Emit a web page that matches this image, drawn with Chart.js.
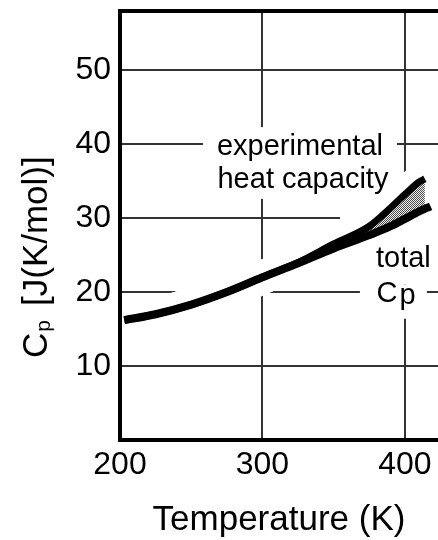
<!DOCTYPE html>
<html><head><meta charset="utf-8">
<script src="https://cdn.jsdelivr.net/npm/chart.js@4/dist/chart.umd.min.js"></script>
<style>html,body{margin:0;padding:0;background:#fff}#wrap{width:438px;height:540px}</style>
</head><body><div id="wrap"><canvas id="c" width="438" height="540"></canvas></div>
<script>
// ---- data ----
const temperatures = [203, 225, 250, 275, 300, 325, 350, 375, 390, 400, 410, 418];
const totalCp = [16.2, 17.0, 18.3, 20.0, 22.0, 23.9, 25.9, 27.7, 28.9, 29.9, 30.9, 31.6];
const expTemperatures = [203, 225, 250, 275, 300, 325, 350, 375, 390, 400, 410, 414];
const experimentalCp = [16.2, 17.0, 18.3, 20.0, 22.0, 24.0, 26.5, 28.9, 31.4, 33.2, 34.9, 35.3];
const xTicks = [200, 300, 400];
const yTicks = [10, 20, 30, 40, 50];
const xTitle = 'Temperature (K)';
const yTitleMain = 'C';
const yTitleSub = 'p';
const yTitleRest = '[J(K/mol)]';
const annotationLines = ['experimental', 'heat capacity', 'total'];
const annotationX = [326.3, 328.4, 398.9];
const annotationY = [38.5, 34.1, 23.4];
const cpLabelX = 380.1, cpLabelY = 18.7;
// white knock-out boxes behind labels (data units)
const maskX0 = [258.2, 354.4, 368.4];
const maskX1 = [394.4, 423.2, 415.4];
const maskY0 = [32.6, 21.0, 16.4];
const maskY1 = [42.3, 36.1, 21.0];

const FONT = '"Liberation Sans", Arial, Helvetica, sans-serif';
const pts = (xs, ys) => xs.map((x, i) => ({x, y: ys[i]}));

const canvas = document.getElementById('c');
const mainCtx = canvas.getContext('2d');
const pc = document.createElement('canvas'); pc.width = 2; pc.height = 2;
const pctx = pc.getContext('2d');
pctx.fillStyle = '#f2f2f2'; pctx.fillRect(0, 0, 2, 2);
pctx.fillStyle = '#4a4a4a'; pctx.fillRect(0, 0, 1, 1); pctx.fillRect(1, 1, 1, 1);
const hatch = mainCtx.createPattern(pc, 'repeat');

const deco = {
  id: 'deco',
  beforeDatasetsDraw(chart) {
    const {ctx, scales: {x, y}} = chart;
    ctx.save();
    ctx.fillStyle = '#fff';
    for (let i = 0; i < maskX0.length; i++) {
      const l = x.getPixelForValue(maskX0[i]), r = x.getPixelForValue(maskX1[i]);
      const t = y.getPixelForValue(maskY1[i]), b = y.getPixelForValue(maskY0[i]);
      ctx.fillRect(l, t, r - l, b - t);
    }
    ctx.restore();
  },
  afterDatasetsDraw(chart) {
    const {ctx, chartArea: a, scales: {x, y}} = chart;
    ctx.save();
    // frame
    ctx.strokeStyle = '#000'; ctx.lineWidth = 4; ctx.lineJoin = 'miter';
    ctx.beginPath();
    ctx.moveTo(a.right + 2, a.top); ctx.lineTo(a.left, a.top);
    ctx.lineTo(a.left, a.bottom); ctx.lineTo(a.right + 2, a.bottom);
    ctx.stroke();
    // annotations
    ctx.fillStyle = '#000';
    ctx.font = '29px ' + FONT;
    ctx.textAlign = 'center'; ctx.textBaseline = 'alphabetic';
    annotationLines.forEach((t, i) => ctx.fillText(t, x.getPixelForValue(annotationX[i]), y.getPixelForValue(annotationY[i])));
    ctx.textAlign = 'left';
    const cx = x.getPixelForValue(cpLabelX), cy = y.getPixelForValue(cpLabelY);
    ctx.fillText('C', cx, cy);
    ctx.fillText('p', cx + ctx.measureText('C').width + 2, cy + 2);
    // x title
    ctx.font = '35px ' + FONT;
    ctx.textAlign = 'center';
    ctx.fillText(xTitle, (a.left + a.right) / 2, 530);
    // y title
    ctx.translate(47, 358);
    ctx.rotate(-Math.PI / 2);
    ctx.textAlign = 'left';
    ctx.font = '35px ' + FONT;
    ctx.fillText(yTitleMain, 0, 0);
    const w = ctx.measureText(yTitleMain).width;
    ctx.font = '21px ' + FONT;
    ctx.fillText(yTitleSub, w + 1, 3);
    ctx.font = '35px ' + FONT;
    ctx.fillText(yTitleRest, 52, 0);
    ctx.restore();
  }
};

const noPad = s => { s.paddingTop = 0; s.paddingBottom = 0; s.paddingLeft = 0; s.paddingRight = 0; };

new Chart(canvas, {
  type: 'line',
  data: {
    datasets: [
      {label: 'total Cp', data: pts(temperatures, totalCp), borderColor: '#000', borderWidth: 8,
       pointRadius: 0, fill: false, cubicInterpolationMode: 'monotone', borderCapStyle: 'butt', borderJoinStyle: 'round'},
      {label: 'experimental heat capacity', data: pts(expTemperatures, experimentalCp), borderColor: '#000', borderWidth: 7,
       pointRadius: 0, fill: '-1', backgroundColor: hatch, cubicInterpolationMode: 'monotone', borderCapStyle: 'butt', borderJoinStyle: 'round'},
      {label: 'halo exp', data: pts(expTemperatures, experimentalCp), borderColor: '#fff', borderWidth: 34,
       pointRadius: 0, fill: false, cubicInterpolationMode: 'monotone', clip: 0},
      {label: 'halo total', data: pts(temperatures, totalCp), borderColor: '#fff', borderWidth: 34,
       pointRadius: 0, fill: false, cubicInterpolationMode: 'monotone', clip: 0}
    ]
  },
  options: {
    responsive: false, devicePixelRatio: 1, animation: false, events: [],
    layout: {padding: {top: 11, right: 0, left: 0, bottom: 0}},
    plugins: {legend: {display: false}, tooltip: {enabled: false}},
    scales: {
      x: {type: 'linear', min: 200, max: 423.2,
        afterFit: s => { s.height = 100; noPad(s); },
        afterBuildTicks: s => { s.ticks = xTicks.map(v => ({value: v})); },
        grid: {color: '#333', lineWidth: 2, drawTicks: false},
        border: {display: false},
        ticks: {font: {size: 32, family: FONT}, color: '#000', padding: 6, maxRotation: 0, autoSkip: false}},
      y: {type: 'linear', min: 0, max: 58,
        afterFit: s => { s.width = 120; noPad(s); },
        afterBuildTicks: s => { s.ticks = yTicks.map(v => ({value: v})); },
        grid: {color: '#333', lineWidth: 2, drawTicks: false},
        border: {display: false},
        ticks: {font: {size: 32, family: FONT}, color: '#000', padding: 9, autoSkip: false}}
    }
  },
  plugins: [deco]
});
</script></body></html>
